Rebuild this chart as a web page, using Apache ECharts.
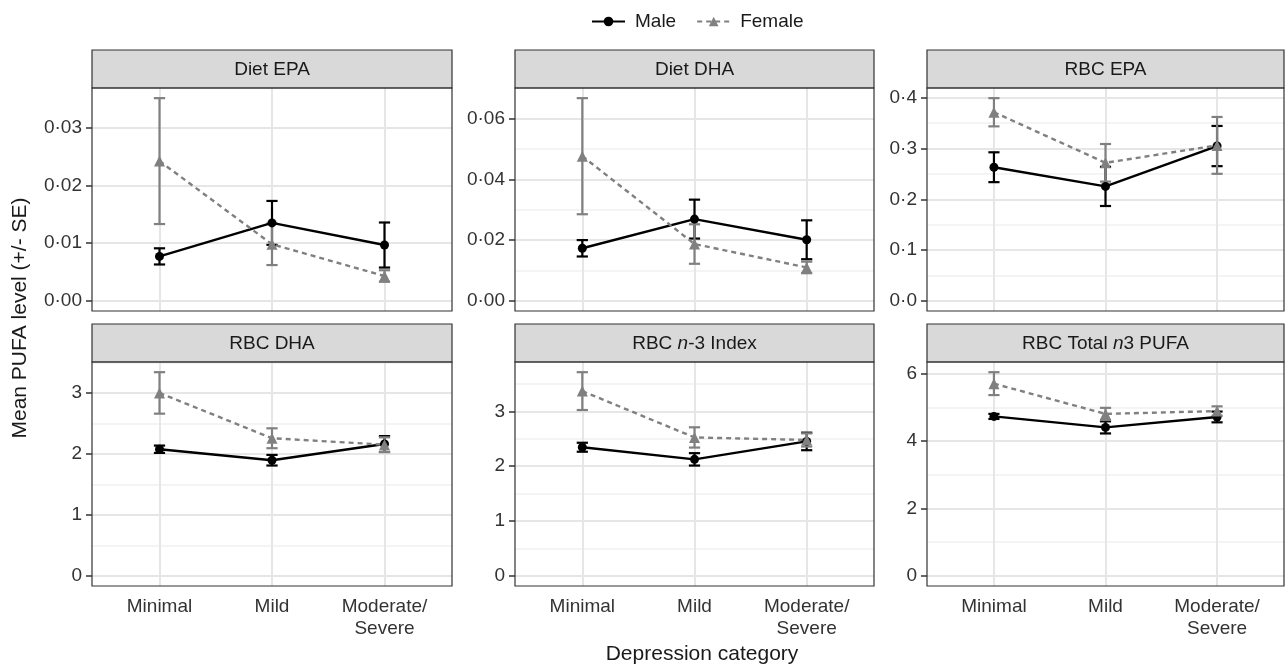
<!DOCTYPE html>
<html>
<head>
<meta charset="utf-8">
<script src="https://cdn.jsdelivr.net/npm/echarts@6/dist/echarts.min.js"></script>
<style>
html, body { margin: 0; padding: 0; background: #fff; }
#chart { width: 1285px; height: 669px; }
</style>
</head>
<body>
<div id="chart"></div>
<script>
// categories on the x axis (positions 1, 2, 3)
var categories = ["Minimal", "Mild", "Moderate/\nSevere"];
var panelTitles = ["Diet EPA", "Diet DHA", "RBC EPA", "RBC DHA", "RBC {i|n}-3 Index", "RBC Total {i|n}3 PUFA"];

// means and standard errors, one row per panel
var maleMean = [
    [0.0077, 0.0135, 0.00967],
    [0.0173, 0.0269, 0.0201],
    [0.2633, 0.2255, 0.305],
    [2.075, 1.895, 2.16],
    [2.345, 2.124, 2.451],
    [4.736, 4.41, 4.72]
];
var maleSE = [
    [0.0014, 0.0038, 0.0039],
    [0.0027, 0.0064, 0.0064],
    [0.0294, 0.0386, 0.0396],
    [0.06, 0.087, 0.13],
    [0.082, 0.113, 0.16],
    [0.075, 0.18, 0.16]
];
var femaleMean = [
    [0.0242, 0.0098, 0.0043],
    [0.0476, 0.0187, 0.011],
    [0.3716, 0.272, 0.3063],
    [2.998, 2.255, 2.15],
    [3.369, 2.524, 2.478],
    [5.71, 4.81, 4.895]
];
var femaleSE = [
    [0.0109, 0.0036, 0.001],
    [0.0191, 0.0065, 0.0019],
    [0.0278, 0.037, 0.056],
    [0.34, 0.163, 0.12],
    [0.345, 0.185, 0.12],
    [0.34, 0.18, 0.14]
];

// y tick labels per panel
var majorTicks = [
    [0, 0.01, 0.02, 0.03],
    [0, 0.02, 0.04, 0.06],
    [0, 0.1, 0.2, 0.3, 0.4],
    [0, 1, 2, 3],
    [0, 1, 2, 3],
    [0, 2, 4, 6]
];
var minorTicks = [
    [0.005, 0.015, 0.025, 0.035],
    [0.01, 0.03, 0.05],
    [0.05, 0.15, 0.25, 0.35],
    [0.5, 1.5, 2.5, 3.5],
    [0.5, 1.5, 2.5, 3.5],
    [1, 3, 5]
];
var tickDecimals = [2, 2, 1, 0, 0, 0];

var FONT = "Liberation Sans, Arial, Helvetica, sans-serif";
var panelLeft = [92, 515, 927];
var panelWidth = [360, 359, 357];
var rowTop = [88, 362];
var rowHeight = [223, 224];
var stripH = 38;

var chart = echarts.init(document.getElementById("chart"));

function errorBar(params, api) {
    var x = api.value(0);
    var hiPt = api.coord([x, api.value(2)]);
    var loPt = api.coord([x, api.value(1)]);
    var half = api.size([0.1, 0])[0] / 2;
    var c = api.visual("color");
    return {
        type: "group",
        children: [
            { type: "line", shape: { x1: hiPt[0], y1: hiPt[1], x2: loPt[0], y2: loPt[1] }, style: { stroke: c, lineWidth: 2.2 } },
            { type: "line", shape: { x1: hiPt[0] - half, y1: hiPt[1], x2: hiPt[0] + half, y2: hiPt[1] }, style: { stroke: c, lineWidth: 2.2 } },
            { type: "line", shape: { x1: loPt[0] - half, y1: loPt[1], x2: loPt[0] + half, y2: loPt[1] }, style: { stroke: c, lineWidth: 2.2 } }
        ]
    };
}

var grids = [], xAxes = [], yAxes = [], lineSeries = [], otherSeries = [], graphics = [];

for (var p = 0; p < 6; p++) {
    var col = p % 3, row = Math.floor(p / 3);
    var pLeft = panelLeft[col], pTop = rowTop[row], pW = panelWidth[col], pH = rowHeight[row];
    grids.push({ left: pLeft, top: pTop, width: pW, height: pH });

    // y range like ggplot: include 0, expand 5%
    var hi = 0;
    for (var i = 0; i < 3; i++) {
        hi = Math.max(hi, maleMean[p][i] + maleSE[p][i], femaleMean[p][i] + femaleSE[p][i]);
    }
    var pad = hi * 0.05;
    var dec = tickDecimals[p];

    var xa = {
        type: "value", gridIndex: p, min: 0.4, max: 3.6,
        axisLine: { show: false },
        splitLine: { show: false },
        axisTick: { show: false },
        axisLabel: { show: false }
    };
    if (row === 1) {
        xa.axisTick = { show: true, customValues: [1, 2, 3], length: 6, lineStyle: { color: "#333", width: 1.5 } };
        xa.axisLabel = {
            show: true, customValues: [1, 2, 3], margin: 10,
            fontFamily: FONT, fontSize: 19, color: "#333", lineHeight: 22,
            formatter: function (v) { return categories[Math.round(v) - 1]; }
        };
    }
    xAxes.push(xa);
    yAxes.push({
        type: "value", gridIndex: p, min: -pad, max: hi + pad,
        axisLine: { show: false },
        splitLine: { show: false },
        axisTick: { show: true, customValues: majorTicks[p], length: 6, lineStyle: { color: "#333", width: 1.5 } },
        axisLabel: {
            customValues: majorTicks[p], margin: 10,
            fontFamily: FONT, fontSize: 19, color: "#333",
            formatter: (function (d) {
                return function (v) { return Number(v).toFixed(d).replace(".", "\u00b7"); };
            })(dec)
        }
    });

    // grid lines
    var gl = [];
    minorTicks[p].forEach(function (v) {
        gl.push({ yAxis: v, lineStyle: { color: "#F0F0F0", width: 1.5, type: "solid" } });
    });
    majorTicks[p].forEach(function (v) {
        gl.push({ yAxis: v, lineStyle: { color: "#E6E6E6", width: 2, type: "solid" } });
    });
    [1, 2, 3].forEach(function (v) {
        gl.push({ xAxis: v, lineStyle: { color: "#E6E6E6", width: 2, type: "solid" } });
    });
    otherSeries.push({
        type: "line", xAxisIndex: p, yAxisIndex: p, data: [], silent: true, z: 1,
        markLine: { silent: true, z: 1, symbol: ["none", "none"], label: { show: false }, animation: false, data: gl }
    });

    var groups = [
        { name: "Male", mean: maleMean[p], se: maleSE[p], color: "#000000", symbol: "circle", size: 9, dash: "solid" },
        { name: "Female", mean: femaleMean[p], se: femaleSE[p], color: "#808080", symbol: "triangle", size: 11, dash: [5, 4] }
    ];
    groups.forEach(function (g) {
        var pts = [], bars = [];
        for (var k = 0; k < 3; k++) {
            pts.push([k + 1, g.mean[k]]);
            bars.push([k + 1, g.mean[k] - g.se[k], g.mean[k] + g.se[k]]);
        }
        lineSeries.push({
            type: "line", name: g.name, xAxisIndex: p, yAxisIndex: p, z: 4,
            data: pts, symbol: g.symbol, symbolSize: g.size, showSymbol: true,
            itemStyle: { color: g.color },
            lineStyle: { color: g.color, width: 2.4, type: g.dash }
        });
        otherSeries.push({
            type: "custom", name: g.name, xAxisIndex: p, yAxisIndex: p, z: 3,
            renderItem: errorBar, itemStyle: { color: g.color }, data: bars, silent: true
        });
    });

    // strip and panel border
    graphics.push({
        type: "rect", z: 50,
        shape: { x: pLeft, y: pTop - stripH, width: pW, height: stripH },
        style: { fill: "#D9D9D9", stroke: "#333", lineWidth: 1.2 }
    });
    graphics.push({
        type: "text", z: 51, x: pLeft + pW / 2, y: pTop - stripH / 2 + 1,
        style: {
            text: panelTitles[p], align: "center", verticalAlign: "middle",
            fontFamily: FONT, fontSize: 19, fill: "#1A1A1A",
            rich: { i: { fontStyle: "italic", fontFamily: FONT, fontSize: 19, fill: "#1A1A1A" } }
        }
    });
    graphics.push({
        type: "rect", z: 50,
        shape: { x: pLeft, y: pTop, width: pW, height: pH },
        style: { fill: "none", stroke: "#333", lineWidth: 1.2 }
    });
}

graphics.push({
    type: "text", z: 51, x: 20, y: 318, rotation: Math.PI / 2,
    style: { text: "Mean PUFA level (+/- SE)", align: "center", verticalAlign: "middle", fontFamily: FONT, fontSize: 21, fill: "#1A1A1A" }
});
graphics.push({
    type: "text", z: 51, x: 702, y: 654,
    style: { text: "Depression category", align: "center", verticalAlign: "middle", fontFamily: FONT, fontSize: 21, fill: "#1A1A1A" }
});

chart.setOption({
    animation: false,
    backgroundColor: "#fff",
    legend: {
        data: ["Male", "Female"], left: 586, top: 7,
        itemWidth: 33, itemHeight: 12, itemGap: 20,
        textStyle: { fontFamily: FONT, fontSize: 19, color: "#1A1A1A", padding: [0, 0, 0, 5] }
    },
    grid: grids,
    xAxis: xAxes,
    yAxis: yAxes,
    series: lineSeries.concat(otherSeries),
    graphic: graphics
});
</script>
</body>
</html>
